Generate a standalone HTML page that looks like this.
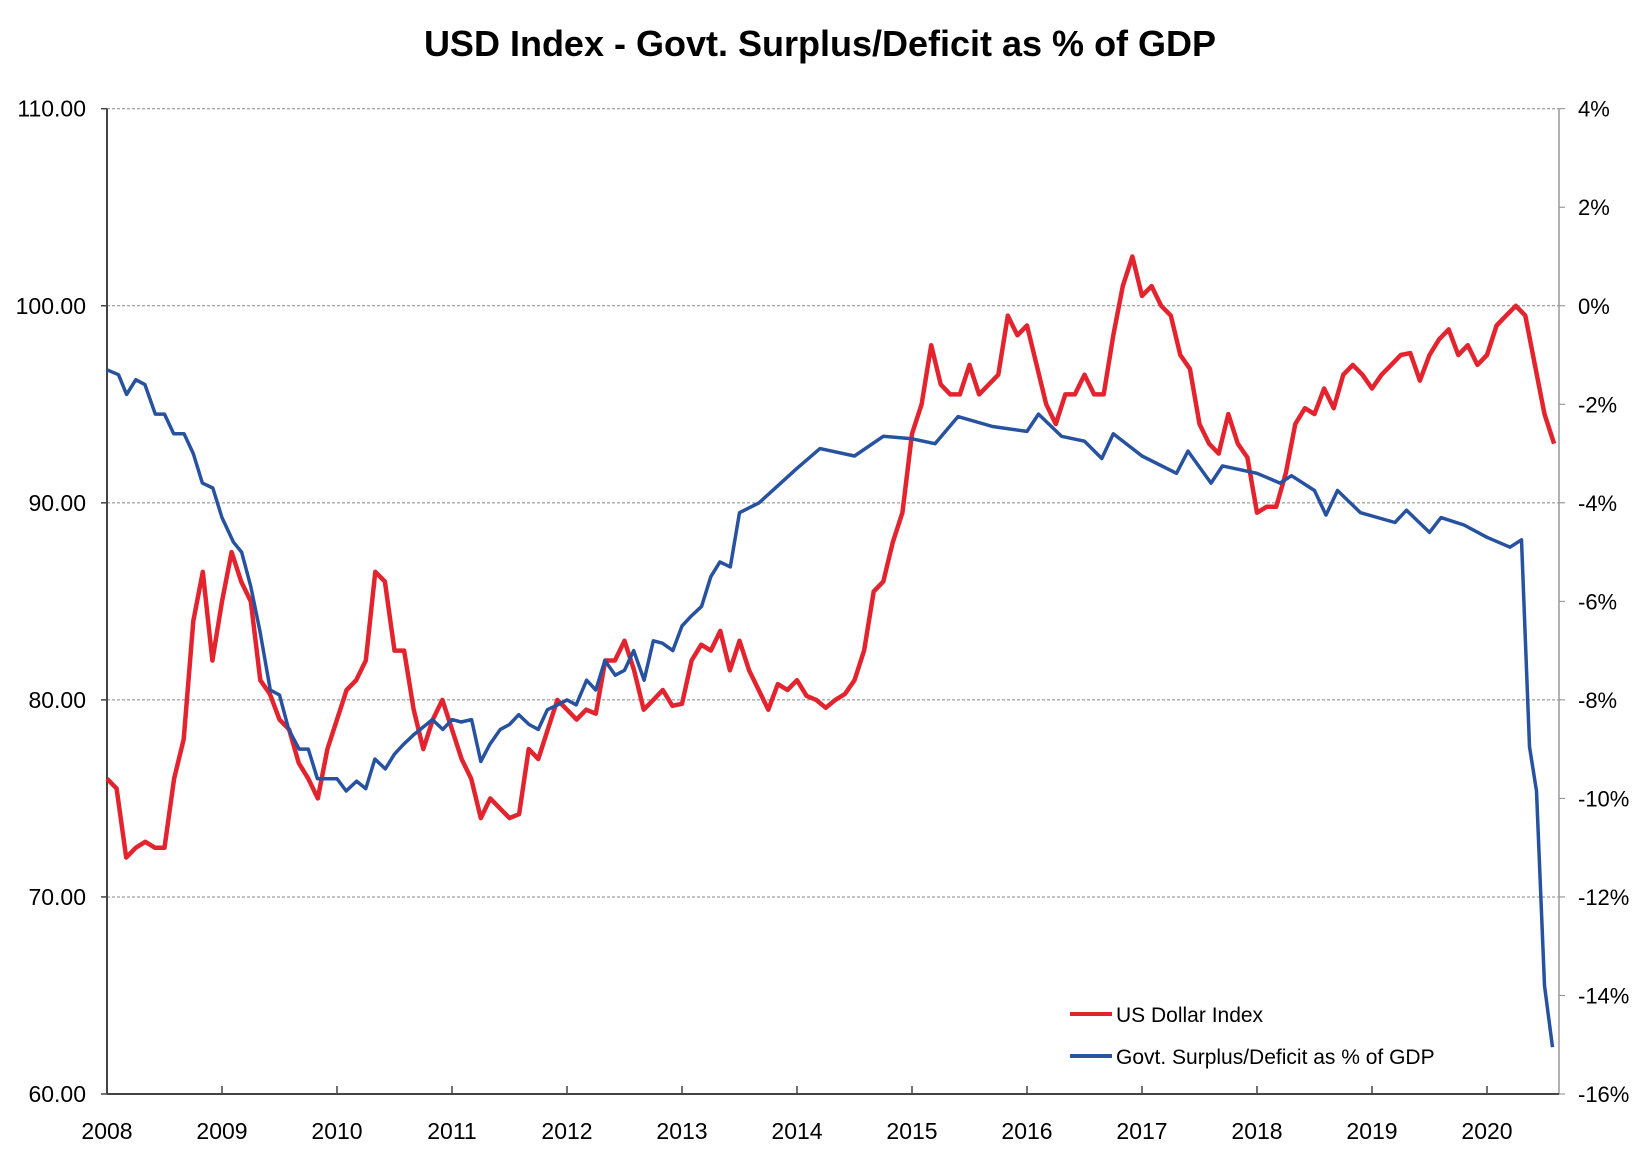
<!DOCTYPE html>
<html><head><meta charset="utf-8">
<style>
html,body{margin:0;padding:0;background:#fff;}
svg text{font-family:"Liberation Sans",sans-serif;}
</style></head>
<body>
<svg id="chart" width="1637" height="1158" viewBox="0 0 1637 1158" xmlns="http://www.w3.org/2000/svg">
<rect width="1637" height="1158" fill="#fff"/>
<text x="820" y="56" text-anchor="middle" font-size="36" font-weight="bold" fill="#000">USD Index - Govt. Surplus/Deficit as % of GDP</text>
<g id="grid"></g><g id="axes"></g><g id="series"></g>
<g>
<line x1="1070" y1="1014" x2="1112" y2="1014" stroke="#e3242f" stroke-width="4"/>
<text x="1116" y="1022" font-size="21" fill="#000">US Dollar Index</text>
<line x1="1070" y1="1056" x2="1112" y2="1056" stroke="#2752a0" stroke-width="4"/>
<text x="1116" y="1064" font-size="21" fill="#000">Govt. Surplus/Deficit as % of GDP</text>
</g>
</svg>
<script>
const years=[2008,2009,2010,2011,2012,2013,2014,2015,2016,2017,2018,2019,2020];
const leftTicks=[60,70,80,90,100,110];
const leftTickLabels=["60.00","70.00","80.00","90.00","100.00","110.00"];
const rightTicks=[-16,-14,-12,-10,-8,-6,-4,-2,0,2,4];
const rightTickLabels=["-16%","-14%","-12%","-10%","-8%","-6%","-4%","-2%","0%","2%","4%"];
const usdStart=2008.0;
const usdValues=[
76,75.5,72,72.5,72.8,72.5,72.5,76,78,84,86.5,82,
85,87.5,86,85,81,80.3,79,78.5,76.8,76,75,77.5,
79,80.5,81,82,86.5,86,82.5,82.5,79.5,77.5,79,80,
78.5,77,76,74,75,74.5,74,74.2,77.5,77,78.5,80,
79.5,79,79.5,79.3,82,82,83,81.5,79.5,80,80.5,79.7,
79.8,82,82.8,82.5,83.5,81.5,83,81.5,80.5,79.5,80.8,80.5,
81,80.2,80,79.6,80,80.3,81,82.5,85.5,86,88,89.5,
93.5,95,98,96,95.5,95.5,97,95.5,96,96.5,99.5,98.5,
99,97,95,94,95.5,95.5,96.5,95.5,95.5,98.5,101,102.5,
100.5,101,100,99.5,97.5,96.8,94,93,92.5,94.5,93,92.3,
89.5,89.8,89.8,91.5,94,94.8,94.5,95.8,94.8,96.5,97,96.5,
95.8,96.5,97,97.5,97.6,96.2,97.5,98.3,98.8,97.5,98,97,
97.5,99,99.5,100,99.5,97,94.5,93];
const defDates=[2008,2008.1,2008.17,2008.25,2008.33,2008.42,2008.5,2008.58,2008.67,2008.75,2008.83,2008.92,
2009,2009.1,2009.17,2009.25,2009.33,2009.42,2009.5,2009.58,2009.67,2009.75,2009.83,2009.92,
2010,2010.08,2010.17,2010.25,2010.33,2010.42,2010.5,2010.58,2010.67,2010.75,2010.83,2010.92,
2011,2011.08,2011.17,2011.25,2011.33,2011.42,2011.5,2011.58,2011.67,2011.75,2011.83,2011.92,
2012,2012.08,2012.17,2012.25,2012.33,2012.42,2012.5,2012.58,2012.67,2012.75,2012.83,2012.92,
2013,2013.08,2013.17,2013.25,2013.33,2013.42,2013.5,2013.67,2014,2014.2,2014.5,2014.75,
2015,2015.2,2015.4,2015.7,2016,2016.1,2016.3,2016.5,2016.65,2016.75,2017,2017.3,2017.4,2017.6,2017.7,
2018,2018.2,2018.3,2018.5,2018.6,2018.7,2018.9,2019.2,2019.3,2019.5,2019.6,2019.8,2020,2020.2,2020.3,
2020.37,2020.43,2020.5,2020.57];
const defValues=[-1.3,-1.4,-1.8,-1.5,-1.6,-2.2,-2.2,-2.6,-2.6,-3.0,-3.6,-3.7,
-4.3,-4.8,-5.0,-5.7,-6.6,-7.8,-7.9,-8.6,-9.0,-9.0,-9.6,-9.6,
-9.6,-9.85,-9.65,-9.8,-9.2,-9.4,-9.1,-8.9,-8.7,-8.55,-8.4,-8.6,
-8.4,-8.45,-8.4,-9.25,-8.9,-8.6,-8.5,-8.3,-8.5,-8.6,-8.2,-8.1,
-8.0,-8.1,-7.6,-7.8,-7.2,-7.5,-7.4,-7.0,-7.6,-6.8,-6.85,-7.0,
-6.5,-6.3,-6.1,-5.5,-5.2,-5.3,-4.2,-4.0,-3.3,-2.9,-3.05,-2.65,
-2.7,-2.8,-2.25,-2.45,-2.55,-2.2,-2.65,-2.75,-3.1,-2.6,-3.05,-3.4,-2.95,-3.6,-3.25,
-3.4,-3.6,-3.45,-3.75,-4.25,-3.75,-4.2,-4.4,-4.15,-4.6,-4.3,-4.45,-4.7,-4.9,-4.75,
-8.95,-9.85,-13.8,-15.05];

const NS="http://www.w3.org/2000/svg";
const X0=107,PXY=115,XR=1559,YT=108.7,YB=1094;
const xs=t=>X0+(t-2008)*PXY;
const yL=v=>YB-(v-60)/(110-60)*(YB-YT);
const yR=v=>YB-(v+16)/20*(YB-YT);
function mk(tag,attrs,parent){const e=document.createElementNS(NS,tag);for(const k in attrs)e.setAttribute(k,attrs[k]);parent.appendChild(e);return e;}
const grid=document.getElementById('grid'),axes=document.getElementById('axes'),series=document.getElementById('series');
leftTicks.forEach((v,i)=>{
  const y=yL(v);
  if(v>60){const g=mk('line',{x1:X0,y1:y,x2:XR,y2:y,stroke:'#888','stroke-width':1,'stroke-dasharray':'3,2'},grid);
  
  }
  const tk=mk('line',{x1:X0-6,y1:y,x2:X0,y2:y,stroke:'#444','stroke-width':1.5},axes);
  
  
  const t=mk('text',{x:86,y:y+8,'text-anchor':'end','font-size':23,fill:'#000'},axes);t.textContent=leftTickLabels[i];
  
  
});
rightTicks.forEach((v,i)=>{
  const y=yR(v);
  const tk=mk('line',{x1:XR,y1:y,x2:XR+6,y2:y,stroke:'#888','stroke-width':1},axes);
  
  
  const t=mk('text',{x:1578,y:y+8,'font-size':22,fill:'#000'},axes);t.textContent=rightTickLabels[i];
  
  
});
years.forEach(yr=>{
  const x=xs(yr);
  const tk=mk('line',{x1:x,y1:YB,x2:x,y2:YB-8,stroke:'#444','stroke-width':1.5},axes);
  
  
  const t=mk('text',{x:x,y:1139,'text-anchor':'middle','font-size':23,fill:'#000'},axes);t.textContent=yr;
  
  
});
const la=mk('line',{x1:X0,y1:YT,x2:X0,y2:YB,stroke:'#444','stroke-width':2},axes);


const ra=mk('line',{x1:XR,y1:YT,x2:XR,y2:YB,stroke:'#999','stroke-width':1.5},axes);


const ba=mk('line',{x1:X0,y1:YB,x2:XR,y2:YB,stroke:'#444','stroke-width':2},axes);



const usdPts=usdValues.map((v,i)=>xs(usdStart+i/12).toFixed(1)+','+yL(v).toFixed(1)).join(' ');
const red=mk('polyline',{points:usdPts,fill:'none',stroke:'#e3242f','stroke-width':4.5,'stroke-linejoin':'round'},series);


const defPts=defValues.map((v,i)=>xs(defDates[i]).toFixed(1)+','+yR(v).toFixed(1)).join(' ');
const blue=mk('polyline',{points:defPts,fill:'none',stroke:'#2752a0','stroke-width':3.5,'stroke-linejoin':'round'},series);


</script>
</body></html>
